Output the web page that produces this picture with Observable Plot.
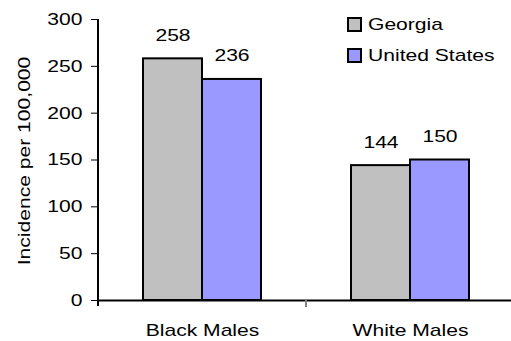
<!DOCTYPE html>
<html>
<head>
<meta charset="utf-8">
<script src="https://cdn.jsdelivr.net/npm/d3@7"></script>
<script src="https://cdn.jsdelivr.net/npm/@observablehq/plot@0.6"></script>
<style>
  html, body { margin: 0; padding: 0; background: #fff; }
  #chart { position: relative; width: 511px; height: 341px; font-family: "Liberation Sans", Arial, sans-serif; }
  #legend { position: absolute; left: 347px; top: 9px; font-size: 17px; color: #000; }
  #legend .item { display: flex; align-items: center; height: 31px; white-space: nowrap; }
  #legend .swatch { width: 11px; height: 11px; border: 2px solid #000; margin-right: 6px; flex: none; }
  #legend span { display: inline-block; transform: scaleX(1.24); transform-origin: left center; }
</style>
</head>
<body>
<div id="chart"><div id="legend"></div></div>
<script>
// Incidence per 100,000 by group, Georgia vs United States
const categories = ["Black Males", "White Males"];
const series = ["Georgia", "United States"];
const georgia = [258, 144];
const unitedStates = [236, 150];
const colors = ["#c0c0c0", "#9999ff"];
const yTicks = [0, 50, 100, 150, 200, 250, 300];
const yTitle = "Incidence per 100,000";

const data = categories.flatMap((c, i) => [
  {category: c, series: series[0], value: georgia[i]},
  {category: c, series: series[1], value: unitedStates[i]}
]);

const plot = Plot.plot({
  width: 511,
  height: 341,
  marginLeft: 98,
  marginRight: -3,
  marginTop: 19,
  marginBottom: 41,
  style: {fontFamily: "'Liberation Sans', Arial, sans-serif", fontSize: "17px", color: "#000", background: "transparent", overflow: "visible"},
  fx: {domain: categories, padding: 0, axis: "bottom", tickSize: 0, tickPadding: 23, label: null},
  x: {domain: series, axis: null, paddingInner: 0, paddingOuter: 0.75},
  y: {domain: [0, 300], ticks: yTicks, tickSize: 7, tickPadding: 9, label: null},
  color: {domain: series, range: colors},
  marks: [
    Plot.barY(data, {fx: "category", x: "series", y: "value", fill: "series", stroke: "#000", strokeWidth: 2}),
    Plot.text(data, {fx: "category", x: "series", y: "value", text: d => String(d.value), lineAnchor: "bottom", dy: -18, fontSize: 17, fill: "#000"}),
    Plot.ruleY([0], {stroke: "#000", strokeWidth: 2})
  ]
});

document.getElementById("chart").prepend(plot);

const svg = d3.select(plot);
const fx = plot.scale("fx");
const y = plot.scale("y");

// Axis line on the left and category boundary ticks below the baseline
const x0 = fx.apply(categories[0]);
svg.append("line")
  .attr("x1", x0).attr("x2", x0)
  .attr("y1", y.apply(300)).attr("y2", y.apply(0) + 6)
  .attr("stroke", "#000").attr("stroke-width", 2);
categories.slice(1).forEach(c => {
  const bx = fx.apply(c);
  svg.append("line")
    .attr("x1", bx).attr("x2", bx)
    .attr("y1", y.apply(0)).attr("y2", y.apply(0) + 7)
    .attr("stroke", "#808080").attr("stroke-width", 2);
});

// Rotated y-axis title
svg.append("text")
  .attr("transform", `translate(24,${(y.apply(0) + y.apply(300)) / 2 + 1.5}) rotate(-90)`)
  .attr("text-anchor", "middle")
  .attr("dominant-baseline", "central")
  .attr("font-size", 17)
  .attr("fill", "#000")
  .text(yTitle);

// Wide lettering: stretch every label horizontally along its baseline
svg.selectAll("text").each(function() {
  const len = this.getComputedTextLength();
  if (len > 0) {
    this.setAttribute("textLength", (len * 1.24).toFixed(2));
    this.setAttribute("lengthAdjust", "spacingAndGlyphs");
  }
});

// Legend
const legend = d3.select("#legend");
series.forEach((s, i) => {
  const item = legend.append("div").attr("class", "item");
  item.append("div").attr("class", "swatch").style("background", colors[i]);
  item.append("span").text(s);
});
</script>
</body>
</html>
